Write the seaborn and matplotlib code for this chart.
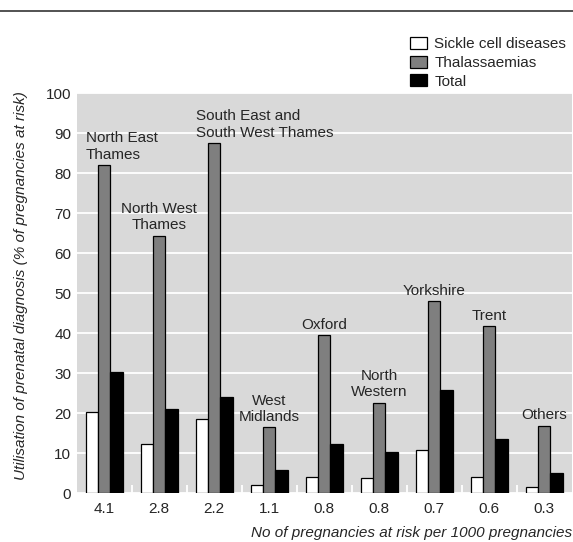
import numpy as np
import pandas as pd
import matplotlib
matplotlib.use("Agg")
import matplotlib.pyplot as plt
import seaborn as sns
from matplotlib.patches import Patch
from matplotlib.lines import Line2D
from matplotlib.ticker import FixedLocator

# data
regions = ["North East\nThames", "North West\nThames", "South East and\nSouth West Thames",
           "West\nMidlands", "Oxford", "North\nWestern", "Yorkshire", "Trent", "Others"]
risk_labels = ["4.1", "2.8", "2.2", "1.1", "0.8", "0.8", "0.7", "0.6", "0.3"]
sickle = [20.3, 12.2, 18.6, 2.1, 4.1, 3.9, 10.7, 4.1, 1.7]
thal = [82.0, 64.3, 87.5, 16.5, 39.5, 22.6, 48.0, 41.7, 16.9]
total = [30.2, 21.1, 24.1, 5.8, 12.3, 10.2, 25.7, 13.5, 5.0]
left_aligned = [True, False, True, False, False, False, False, False, False]

series = ["Sickle cell diseases", "Thalassaemias", "Total"]
colours = {"Sickle cell diseases": "white", "Thalassaemias": "#7f7f7f", "Total": "black"}

df = pd.DataFrame({
    "region": regions * 3,
    "value": sickle + thal + total,
    "series": [series[0]] * 9 + [series[1]] * 9 + [series[2]] * 9,
})

sns.set_style("white")
plt.rcParams["font.family"] = ["Liberation Sans Narrow", "Liberation Sans", "DejaVu Sans"]
plt.rcParams["font.size"] = 11

fig = plt.figure(figsize=(5.73, 5.42), dpi=100)
ax = fig.add_axes([0.134, 0.0898, 0.864, 0.7386])
ax.set_facecolor("#d9d9d9")

group_width = 0.67
sns.barplot(data=df, x="region", y="value", hue="series", order=regions,
            hue_order=series, palette=colours, width=group_width, errorbar=None,
            edgecolor="black", linewidth=0.9, saturation=1, ax=ax, legend=False,
            zorder=3)

ax.set_xlim(-0.5, len(regions) - 0.5)
ax.set_ylim(0, 100)
ax.set_yticks(np.arange(0, 101, 10))
ax.grid(axis="y", color="white", linewidth=1.3, zorder=0)
ax.grid(axis="x", visible=False)
ax.set_axisbelow(True)
for s in ax.spines.values():
    s.set_visible(False)

ax.set_xticks(range(len(regions)))
ax.set_xticklabels(risk_labels)
ax.tick_params(axis="both", which="major", length=0, labelsize=11)
ax.tick_params(axis="x", pad=6)
ax.tick_params(axis="y", pad=4)
ax.xaxis.set_minor_locator(FixedLocator(np.arange(0.5, len(regions) - 1, 1)))
ax.tick_params(axis="x", which="minor", direction="in", length=6, width=1.3,
               color="white", bottom=True)

# region labels above the thalassaemia bars
bar_w = group_width / 3
for i, name in enumerate(regions):
    if left_aligned[i]:
        x, ha = i - 1.5 * bar_w, "left"
    else:
        x, ha = i, "center"
    ax.annotate(name, xy=(x, thal[i]), xytext=(0, 2.5), textcoords="offset points",
                ha=ha, va="bottom", multialignment=ha, fontsize=11, zorder=4)

ax.set_ylabel("Utilisation of prenatal diagnosis (% of pregnancies at risk)",
              fontstyle="italic", fontsize=11)
ax.yaxis.set_label_coords(-0.099, 0.52)
ax.set_xlabel("No of pregnancies at risk per 1000 pregnancies", fontstyle="italic",
              fontsize=11, ha="right")
ax.xaxis.set_label_coords(1.0, -0.082)

handles = [Patch(facecolor=colours[s], edgecolor="black", linewidth=0.9, label=s)
           for s in series]
fig.legend(handles=handles, loc="upper left", bbox_to_anchor=(0.703, 0.946),
           frameon=False, fontsize=11, handlelength=1.1, handleheight=0.85,
           handletextpad=0.45, labelspacing=0.28, borderpad=0)

fig.add_artist(Line2D([0, 1], [0.98, 0.98], color="#444444", linewidth=1.3,
                      transform=fig.transFigure))

fig.savefig("out.png", dpi=100)
